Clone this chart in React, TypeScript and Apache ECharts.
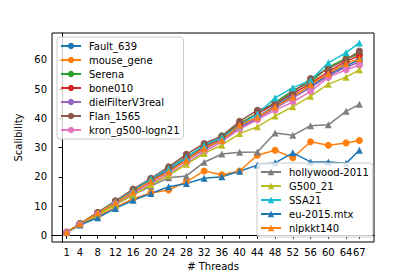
import React, { useEffect, useRef } from "react";
import * as echarts from "echarts";

const threads = [1, 4, 8, 12, 16, 20, 24, 28, 32, 36, 40, 44, 48, 52, 56, 60, 64, 67];
const xTickLabels = [1, 4, 8, 12, 16, 20, 24, 28, 32, 36, 40, 44, 48, 52, 56, 60, 64, 67];
const yTickLabels = [0, 10, 20, 30, 40, 50, 60];

const fault639 = [1, 3.9, 7.6, 11.3, 15.0, 18.6, 22.2, 26.0, 29.8, 33.0, 37.0, 40.5, 44.3, 47.8, 51.0, 55.0, 58.0, 60.0];
const mouseGene = [1, 3.7, 6.5, 9.5, 12.5, 14.5, 15.5, 18.3, 22.0, 20.7, 22.0, 27.4, 29.1, 26.5, 32.0, 30.8, 31.6, 32.4];
const serena = [1, 3.9, 7.7, 11.6, 15.5, 19.2, 22.9, 26.8, 30.6, 34.0, 38.2, 41.8, 45.5, 49.5, 52.5, 57.5, 60.5, 62.0];
const bone010 = [1, 3.9, 7.7, 11.5, 15.3, 19.0, 22.7, 26.5, 30.3, 33.5, 37.8, 41.5, 45.0, 48.5, 52.0, 56.0, 59.5, 61.5];
const dielFilter = [1, 3.9, 7.5, 11.2, 14.8, 18.3, 21.8, 25.6, 29.3, 32.6, 36.6, 40.0, 43.5, 47.0, 50.5, 54.5, 57.5, 59.3];
const flan1565 = [1, 4.0, 7.8, 11.8, 15.8, 19.5, 23.4, 27.7, 31.4, 33.9, 39.0, 42.8, 44.7, 49.0, 53.6, 57.0, 60.1, 63.0];
const kron = [1, 3.8, 7.3, 10.8, 14.3, 17.8, 21.0, 24.8, 28.5, 32.0, 36.3, 39.5, 42.8, 45.6, 49.2, 54.0, 56.6, 58.2];
const hollywood = [1, 3.8, 7.3, 10.5, 13.8, 16.8, 19.7, 20.3, 25.0, 27.8, 28.4, 28.5, 35.0, 34.2, 37.5, 37.8, 42.4, 44.8];
const g500 = [1, 3.7, 7.0, 10.4, 13.8, 17.3, 20.5, 24.3, 28.0, 30.8, 34.8, 37.1, 40.8, 44.0, 47.6, 51.7, 54.1, 56.6];
const ssa21 = [1, 3.9, 7.6, 11.5, 15.3, 19.3, 22.8, 26.5, 30.8, 33.5, 37.5, 41.5, 47.0, 50.5, 53.0, 59.0, 62.5, 65.8];
const eu2015 = [1, 3.5, 6.0, 9.2, 12.0, 14.3, 16.6, 17.7, 19.5, 20.0, 21.9, 24.0, 24.8, 28.2, 25.1, 25.1, 24.6, 29.1];
const nlpkkt140 = [1, 3.9, 7.6, 11.2, 14.9, 18.5, 21.7, 25.7, 29.8, 32.5, 37.6, 40.4, 43.9, 47.3, 51.5, 55.3, 58.8, 60.4];

const seriesDefs = [
  { name: "Fault_639", data: fault639, color: "#1f77b4", symbol: "circle" },
  { name: "mouse_gene", data: mouseGene, color: "#ff7f0e", symbol: "circle" },
  { name: "Serena", data: serena, color: "#2ca02c", symbol: "circle" },
  { name: "bone010", data: bone010, color: "#d62728", symbol: "circle" },
  { name: "dielFilterV3real", data: dielFilter, color: "#9467bd", symbol: "circle" },
  { name: "Flan_1565", data: flan1565, color: "#8c564b", symbol: "circle" },
  { name: "kron_g500-logn21", data: kron, color: "#e377c2", symbol: "circle" },
  { name: "hollywood-2011", data: hollywood, color: "#7f7f7f", symbol: "triangle" },
  { name: "G500_21", data: g500, color: "#bcbd22", symbol: "triangle" },
  { name: "SSA21", data: ssa21, color: "#17becf", symbol: "triangle" },
  { name: "eu-2015.mtx", data: eu2015, color: "#1f77b4", symbol: "triangle" },
  { name: "nlpkkt140", data: nlpkkt140, color: "#ff7f0e", symbol: "triangle" },
];

const FONT = "DejaVu Sans";

export default function App() {
  const ref = useRef<HTMLDivElement>(null);
  useEffect(() => {
    if (!ref.current) return;
    const chart = echarts.init(ref.current, null, { renderer: "svg" });
    const legendCommon = {
      orient: "vertical" as const,
      backgroundColor: "rgba(255,255,255,0.8)",
      borderColor: "#cccccc",
      borderWidth: 1,
      borderRadius: 3,
      padding: [4, 4, 4, 3],
      itemWidth: 20,
      itemHeight: 8,
      itemGap: 4,
      textStyle: { fontFamily: FONT, fontSize: 10, color: "#000", padding: [0, 0, 0, 3] },
    };
    chart.setOption({
      animation: false,
      backgroundColor: "#fff",
      textStyle: { fontFamily: FONT },
      grid: { left: 52, top: 33, right: 41, bottom: 35, show: true, borderColor: "#000", borderWidth: 1, backgroundColor: "transparent" },
      legend: [
        { ...legendCommon, left: 57, top: 37, data: seriesDefs.slice(0, 7).map((s) => s.name) },
        { ...legendCommon, left: 257, top: 163, data: seriesDefs.slice(7).map((s) => s.name) },
      ],
      xAxis: {
        type: "value",
        min: -2.3,
        max: 70.3,
        name: "# Threads",
        nameLocation: "middle",
        nameGap: 17,
        nameTextStyle: { fontFamily: FONT, fontSize: 10, color: "#000" },
        axisLine: { lineStyle: { color: "#000", width: 1 } },
        axisTick: { show: true, inside: false, length: 3.5, lineStyle: { color: "#000" }, customValues: xTickLabels },
        axisLabel: { fontFamily: FONT, fontSize: 10, color: "#000", margin: 5, customValues: xTickLabels, formatter: (v: number) => String(v) },
        splitLine: { show: false },
      },
      yAxis: {
        type: "value",
        min: -2.3,
        max: 69.2,
        name: "Scalibility",
        nameLocation: "middle",
        nameGap: 22,
        nameTextStyle: { fontFamily: FONT, fontSize: 10, color: "#000" },
        axisLine: { show: true, lineStyle: { color: "#000", width: 1 } },
        axisTick: { show: true, inside: false, length: 3.5, lineStyle: { color: "#000" }, customValues: yTickLabels },
        axisLabel: { fontFamily: FONT, fontSize: 10, color: "#000", margin: 5, customValues: yTickLabels, formatter: (v: number) => String(v) },
        splitLine: { show: false },
      },
      series: seriesDefs.map((s) => ({
        name: s.name,
        type: "line",
        data: threads.map((t, i) => [t, s.data[i]]),
        symbol: s.symbol,
        symbolSize: 7,
        showSymbol: true,
        color: s.color,
        lineStyle: { width: 1.5, color: s.color },
        itemStyle: { color: s.color, borderWidth: 0 },
      })),
    });
    return () => chart.dispose();
  }, []);
  return <div ref={ref} style={{ position: "absolute", left: 0, top: 0, width: 415, height: 277 }} />;
}
